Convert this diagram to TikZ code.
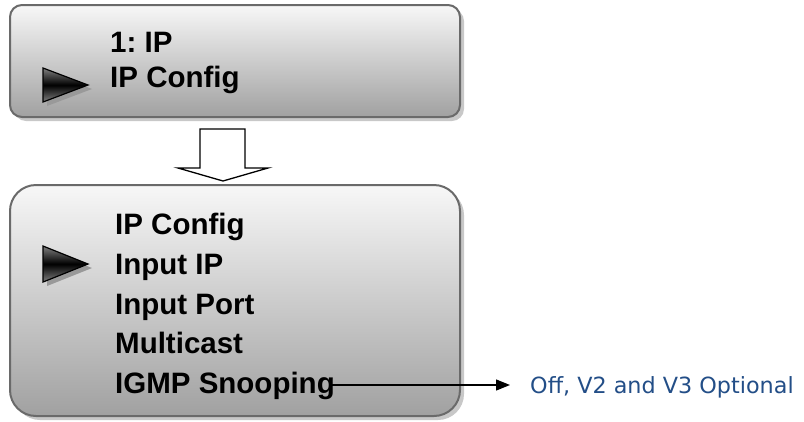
\documentclass[tikz,border=0pt]{standalone}
\usepackage{fontspec}
\setmainfont{Liberation Sans}
\newfontfamily\optfont{DejaVu Sans}
\usetikzlibrary{arrows.meta}
\frenchspacing
\definecolor{boxline}{RGB}{106,106,106}
\definecolor{shadowgray}{RGB}{200,200,200}
\definecolor{optblue}{RGB}{35,78,135}
\tikzset{
  menubox/.style={draw=boxline, line width=2pt, top color=white!97!black, bottom color=black!37},
  boxshadow/.style={fill=shadowgray, draw=none},
  menutext/.style={anchor=base west, inner sep=0pt, font=\fontsize{29.5}{32}\selectfont\bfseries},
  pointer/.style={draw=black, line width=1.2pt, top color=black!50, bottom color=black!50, middle color=black},
  pointershadow/.style={fill=black!40, draw=none},
  blockarrow/.style={draw=black, line width=1.3pt, fill=white, line join=miter},
  opttext/.style={anchor=base west, inner sep=0pt, text=optblue, font=\optfont\fontsize{22.3}{26}\selectfont},
  linkarrow/.style={draw=black, line width=1.3pt, -{Triangle[length=14pt,width=11pt]}}
}
\begin{document}
\begin{tikzpicture}[x=1pt,y=-1pt]
\useasboundingbox (0,0) rectangle (804,421);
% top box
\fill[boxshadow, rounded corners=12pt] (14,9) rectangle (464,121);
\draw[menubox, rounded corners=12pt] (10,5) rectangle (460,117);
\fill[pointershadow] (47,72) -- (92,89) -- (47,106) -- cycle;
\draw[pointer] (43,68) -- (88,85) -- (43,102) -- cycle;
\node[menutext] (t1) at (110,52) {1: IP};
\node[menutext] (t2) at (110,87) {IP Config};
% block arrow
\draw[blockarrow] (200,129) -- (245,129) -- (245,168) -- (268,168) -- (223,181) -- (178,168) -- (200,168) -- cycle;
% bottom box
\fill[boxshadow, rounded corners=26pt] (14,189) rectangle (464,420);
\draw[menubox, rounded corners=26pt] (10,185) rectangle (460,416);
\fill[pointershadow] (47,250) -- (92,268) -- (47,286) -- cycle;
\draw[pointer] (43,246) -- (88,264) -- (43,282) -- cycle;
\node[menutext] (b1) at (115,234) {IP Config};
\node[menutext] (b2) at (115,274) {Input IP};
\node[menutext] (b3) at (115,314) {Input Port};
\node[menutext] (b4) at (115,353) {Multicast};
\node[menutext] (b5) at (115,393) {IGMP Snooping};
\node[opttext] (opt) at (530,393) {Off, V2 and V3 Optional};
\coordinate (optin) at ([xshift=-20pt,yshift=8pt]opt.base west);
\draw[linkarrow] ([xshift=-3pt]b5.east |- optin) -- (optin);
\end{tikzpicture}
\end{document}
